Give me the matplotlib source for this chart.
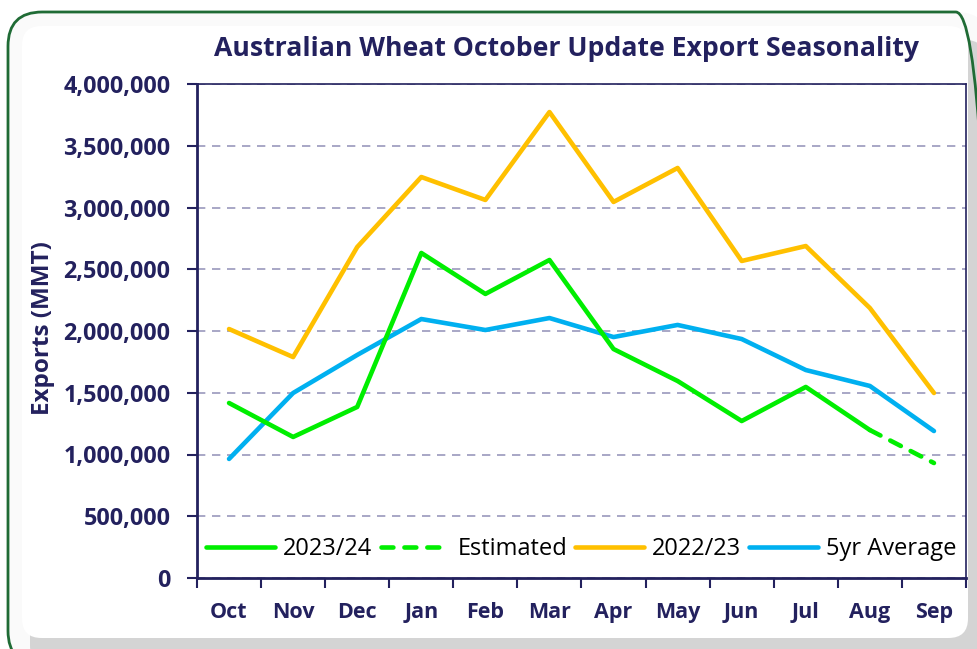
import numpy as np
import matplotlib.pyplot as plt
from matplotlib.patches import FancyBboxPatch
from matplotlib.lines import Line2D
from matplotlib.ticker import FuncFormatter

months = ['Oct', 'Nov', 'Dec', 'Jan', 'Feb', 'Mar', 'Apr', 'May', 'Jun', 'Jul', 'Aug', 'Sep']
exports_2324 = [1417000, 1142000, 1385000, 2632000, 2300000, 2575000, 1854000, 1595000, 1271000, 1547000, 1198000]
estimated_sep = 931000
exports_2223 = [2016000, 1789000, 2680000, 3247000, 3061000, 3773000, 3045000, 3320000, 2567000, 2688000, 2186000, 1498000]
avg_5yr = [964000, 1498000, 1806000, 2097000, 2008000, 2105000, 1951000, 2049000, 1935000, 1684000, 1555000, 1190000]

NAVY = '#23215E'
GREEN = '#00EE00'
GOLD = '#FFC000'
BLUE = '#00B0F0'

plt.rcParams['font.family'] = ['Open Sans', 'DejaVu Sans']

W, H = 978, 649
fig = plt.figure(figsize=(W / 100, H / 100), dpi=100)
fig.patch.set_facecolor('white')

def fx(px):
    return px / W

def fy(py):
    return 1 - py / H

def rbox(x0, y0, x1, y1, r, **kw):
    p = FancyBboxPatch((fx(x0), fy(y1)), fx(x1) - fx(x0), fy(y0) - fy(y1),
                       boxstyle=f'round,pad=0,rounding_size={r}',
                       transform=fig.transFigure, mutation_aspect=W / H, **kw)
    fig.add_artist(p)
    return p

# frame: white fill, grey drop shadow, white panel, green outline on top
rbox(8, 12, 990, 665, 0.035, facecolor='#FAFAFA', edgecolor='none', zorder=-5)
rbox(30, 40, 985, 665, 0.02, facecolor='#D4D4D4', edgecolor='none', zorder=-4)
rbox(22, 26, 968, 638, 0.02, facecolor='white', edgecolor='none', zorder=-3)
rbox(8, 12, 990, 665, 0.035, facecolor='none', edgecolor='#1F6B35', linewidth=2, zorder=-2)

ax = fig.add_axes([fx(197), fy(578), fx(966) - fx(197), fy(84) - fy(578)])
ax.set_facecolor('white')
x = np.arange(len(months))

ax.plot(x[:11], exports_2324, color=GREEN, lw=3.3, solid_capstyle='round', zorder=4)
ax.plot([x[10], x[11]], [exports_2324[-1], estimated_sep], color=GREEN, lw=3.3,
        dashes=(2.6, 2.4), dash_capstyle='round', zorder=4)
ax.plot(x, exports_2223, color=GOLD, lw=3.3, solid_capstyle='round', zorder=3)
ax.plot(x, avg_5yr, color=BLUE, lw=3.3, solid_capstyle='round', zorder=3)

ax.set_xlim(-0.5, 11.5)
ax.set_ylim(0, 4000000)
ax.set_yticks(np.arange(0, 4000001, 500000))
ax.yaxis.set_major_formatter(FuncFormatter(lambda v, p: f'{int(v):,}'))
ax.grid(axis='y', color='#9A98BC', linestyle=(0, (5, 4)), linewidth=1.2)
ax.set_axisbelow(True)

ax.set_xticks(x)
ax.set_xticklabels(months)
ax.set_xticks(np.arange(-0.5, 12, 1), minor=True)
ax.tick_params(axis='x', which='major', length=0, pad=17)
ax.tick_params(axis='x', which='minor', length=7, width=1.5, color=NAVY, direction='out')
ax.tick_params(axis='y', length=7, width=1.5, color=NAVY, pad=12)
for lab in ax.get_xticklabels():
    lab.set_fontsize(15.5)
    lab.set_fontweight('bold')
    lab.set_color(NAVY)
for lab in ax.get_yticklabels():
    lab.set_fontsize(16.8)
    lab.set_fontweight('bold')
    lab.set_color(NAVY)

for s in ax.spines.values():
    s.set_color(NAVY)
    s.set_linewidth(1.2)
ax.spines['left'].set_linewidth(2)
ax.spines['bottom'].set_linewidth(2)

ax.set_ylabel('Exports (MMT)', fontsize=17.5, fontweight='bold', color=NAVY)
ax.yaxis.set_label_coords((55 - 197) / 769, 0.506)
fig.text(fx(567), fy(49), 'Australian Wheat October Update Export Seasonality',
         ha='center', va='center', fontsize=19.2, fontweight='bold', color=NAVY)

handles = [
    Line2D([], [], color=GREEN, lw=3.3, solid_capstyle='round'),
    Line2D([], [], color=GREEN, lw=3.3, dashes=(2.6, 2.4), dash_capstyle='round'),
    Line2D([], [], color=GOLD, lw=3.3, solid_capstyle='round'),
    Line2D([], [], color=BLUE, lw=3.3, solid_capstyle='round'),
]
ax.legend(handles, ['2023/24', 'Estimated', '2022/23', '5yr Average'], loc='center',
          ncol=4, frameon=False, fontsize=17, handlelength=2.9, handletextpad=0.35,
          columnspacing=0.35, bbox_to_anchor=(0.5, (578 - 549) / 494),
          borderpad=0, borderaxespad=0)

fig.savefig('out.png', dpi=100)
